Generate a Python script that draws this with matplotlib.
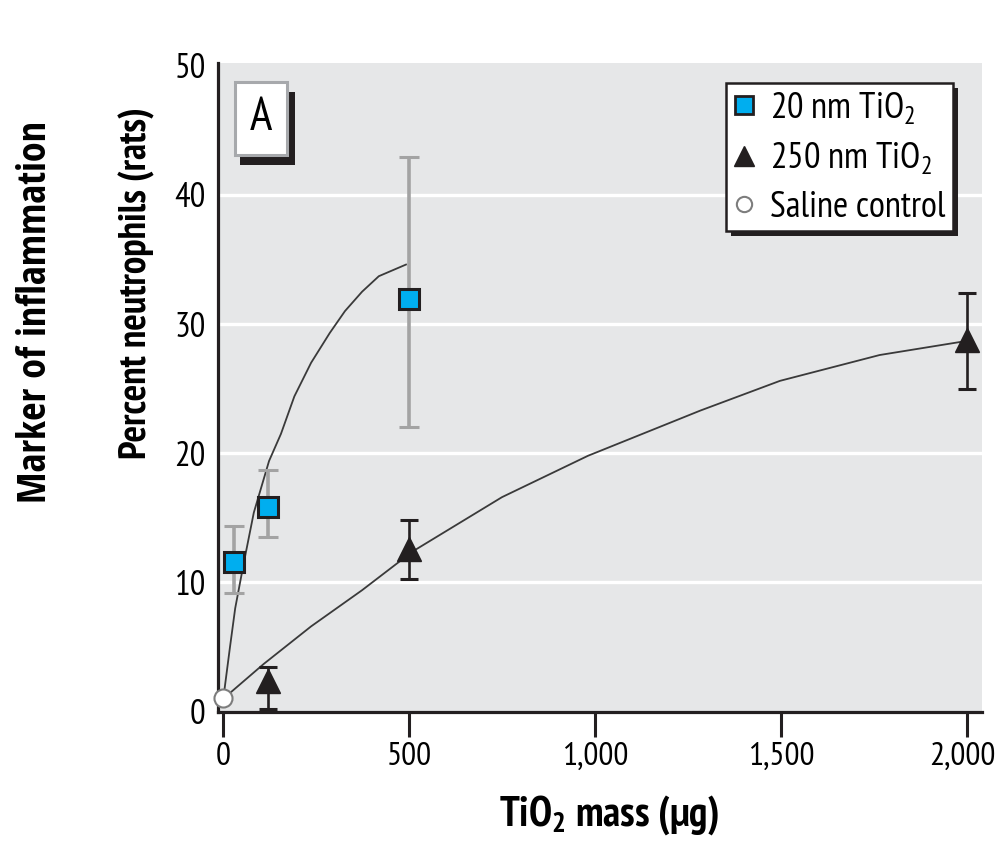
"""Neutrophil response to instilled TiO2 particles (20 nm vs 250 nm) in rats."""

import matplotlib

matplotlib.use("Agg")
import matplotlib.pyplot as plt
import matplotlib.transforms as mtransforms
from matplotlib.lines import Line2D
from matplotlib.patches import Rectangle

NARROW = ["PT Sans Narrow", "DejaVu Sans"]
plt.rcParams["font.family"] = NARROW
plt.rcParams["mathtext.fontset"] = "custom"
plt.rcParams["mathtext.rm"] = "PT Sans Narrow"
plt.rcParams["mathtext.bf"] = "PT Sans Narrow:bold"

# measured points: 20 nm particles
NANO20_MASS = [30, 120, 500]
NANO20_PCT = [11.6, 15.8, 31.9]
NANO20_ERR_LO = [2.4, 2.3, 9.9]
NANO20_ERR_HI = [2.8, 2.9, 11.0]

# measured points: 250 nm particles
FINE250_MASS = [120, 500, 2000]
FINE250_PCT = [2.4, 12.6, 28.8]
FINE250_ERR_LO = [2.2, 2.3, 3.8]
FINE250_ERR_HI = [1.05, 2.2, 3.6]

# saline control
SALINE_MASS = [0]
SALINE_PCT = [1.05]

# fitted dose-response curves
NANO20_FIT_MASS = [0, 18, 32, 55, 82, 123, 155, 191, 236, 286, 327, 373, 418, 491]
NANO20_FIT_PCT = [1.0, 5.0, 8.0, 11.5, 15.4, 19.4, 21.5, 24.4, 27.0, 29.3, 31.0, 32.5, 33.7, 34.6]
FINE250_FIT_MASS = [0, 109, 236, 373, 509, 749, 980, 1282, 1496, 1764, 2000]
FINE250_FIT_PCT = [1.0, 3.7, 6.6, 9.4, 12.4, 16.6, 19.8, 23.3, 25.6, 27.6, 28.7]

X_TICKS = [0, 500, 1000, 1500, 2000]
X_TICK_LABELS = ["0", "500", "1,000", "1,500", "2,000"]
Y_TICKS = [0, 10, 20, 30, 40, 50]
GRID_LEVELS = [10, 20, 30, 40]

BLUE = "#00aeef"
INK = "#231f20"
PANEL_BG = "#e6e7e8"
BAR_GREY = "#a3a3a3"
CURVE = "#3a3a3a"

fig = plt.figure(figsize=(10.0, 8.41), dpi=100)
ax = fig.add_axes([0.2183, 0.1538, 0.7637, 0.7710])
ax.set_facecolor(PANEL_BG)
ax.set_xlim(-13.4, 2039)
ax.set_ylim(0.3, 50.18)

for level in GRID_LEVELS:
    ax.axhline(level, color="white", linewidth=2.4, zorder=1)

ax.plot(NANO20_FIT_MASS, NANO20_FIT_PCT, color=CURVE, linewidth=1.3, zorder=2)
ax.plot(FINE250_FIT_MASS, FINE250_FIT_PCT, color=CURVE, linewidth=1.3, zorder=2)

ax.errorbar(
    NANO20_MASS,
    NANO20_PCT,
    yerr=[NANO20_ERR_LO, NANO20_ERR_HI],
    fmt="none",
    ecolor=BAR_GREY,
    elinewidth=2.6,
    capsize=7,
    capthick=2.2,
    zorder=3,
)
ax.errorbar(
    FINE250_MASS,
    FINE250_PCT,
    yerr=[FINE250_ERR_LO, FINE250_ERR_HI],
    fmt="none",
    ecolor=INK,
    elinewidth=1.9,
    capsize=6.5,
    capthick=2.2,
    zorder=3,
)

ax.plot(
    NANO20_MASS,
    NANO20_PCT,
    linestyle="none",
    marker="s",
    markersize=14,
    markerfacecolor=BLUE,
    markeredgecolor=INK,
    markeredgewidth=2.2,
    zorder=4,
)
ax.plot(
    FINE250_MASS,
    FINE250_PCT,
    linestyle="none",
    marker="^",
    markersize=17,
    markerfacecolor=INK,
    markeredgecolor=INK,
    zorder=4,
)
ax.plot(
    SALINE_MASS,
    SALINE_PCT,
    linestyle="none",
    marker="o",
    markersize=13,
    markerfacecolor="white",
    markeredgecolor="#7d7d7d",
    markeredgewidth=1.5,
    zorder=5,
    clip_on=False,
)

for side in ("top", "right"):
    ax.spines[side].set_visible(False)
for side in ("left", "bottom"):
    ax.spines[side].set_linewidth(2.3)
    ax.spines[side].set_color(INK)

ax.set_xticks(X_TICKS)
ax.set_xticklabels(X_TICK_LABELS)
ax.set_yticks(Y_TICKS)
ax.tick_params(axis="x", length=18, width=2.2, color=INK, pad=4, labelsize=24)
ax.tick_params(axis="y", length=0, pad=9, labelsize=25)

# nudge the last x label so it stays inside the canvas
last_label = ax.get_xticklabels()[-1]
last_label.set_transform(
    last_label.get_transform()
    + mtransforms.ScaledTranslation(-4 / 72, 0, fig.dpi_scale_trans)
)

ax.set_xlabel("TiO$_\\mathbf{2}$ mass (µg)", fontsize=30, fontweight="bold")
ax.xaxis.set_label_coords(0.512, -0.125)
ax.set_ylabel("Percent neutrophils (rats)", fontsize=28, fontweight="bold")
ax.yaxis.set_label_coords(-0.083, 0.661)

fig.text(
    0.036,
    0.629,
    "Marker of inflammation",
    rotation=90,
    ha="center",
    va="center",
    fontsize=29,
    fontweight="bold",
    family=["Open Sans Condensed", "DejaVu Sans"],
)

# panel letter box with a drop shadow
ax.add_patch(Rectangle((0.0284, 0.8432), 0.0720, 0.1125, transform=ax.transAxes,
                       facecolor=INK, edgecolor="none", zorder=6, clip_on=False))
ax.add_patch(Rectangle((0.0219, 0.8586), 0.0681, 0.1126, transform=ax.transAxes,
                       facecolor="white", edgecolor="#a7a9ac", linewidth=2.2,
                       zorder=7, clip_on=False))
ax.text(0.056, 0.915, "A", transform=ax.transAxes, ha="center", va="center",
        fontsize=34, zorder=8)

handles = [
    Line2D([], [], linestyle="none", marker="s", markersize=13, markerfacecolor=BLUE,
           markeredgecolor=INK, markeredgewidth=2.0),
    Line2D([], [], linestyle="none", marker="^", markersize=15, markerfacecolor=INK,
           markeredgecolor=INK),
    Line2D([], [], linestyle="none", marker="o", markersize=11, markerfacecolor="white",
           markeredgecolor="#7d7d7d", markeredgewidth=1.5),
]
labels = ["20 nm TiO$_2$", "250 nm TiO$_2$", "Saline control"]
leg = ax.legend(
    handles,
    labels,
    loc="upper right",
    bbox_to_anchor=(0.962, 0.9696),
    fontsize=26.5,
    frameon=True,
    fancybox=False,
    framealpha=1.0,
    edgecolor=INK,
    borderpad=0.2,
    labelspacing=0.38,
    handlelength=0.6,
    handletextpad=0.4,
    borderaxespad=0.0,
)
leg.get_frame().set_linewidth(1.8)
leg.set_zorder(10)

# solid drop shadow behind the legend
fig.canvas.draw()
bb = leg.get_window_extent().transformed(ax.transAxes.inverted())
dx = 5 / (ax.bbox.width)
dy = 5 / (ax.bbox.height)
ax.add_patch(Rectangle((bb.x0 + dx, bb.y0 - dy), bb.width, bb.height,
                       transform=ax.transAxes, facecolor=INK, edgecolor="none",
                       zorder=9, clip_on=False))

fig.savefig("out.png", dpi=100)
